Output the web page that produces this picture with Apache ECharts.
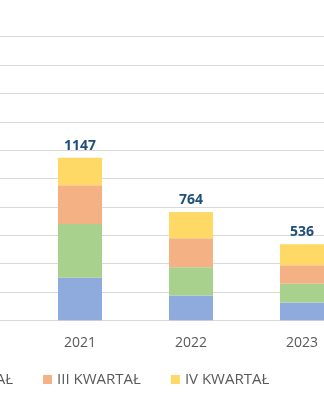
<!DOCTYPE html>
<html><head><meta charset="utf-8">
<script src="https://cdn.jsdelivr.net/npm/echarts@6/dist/echarts.min.js"></script>
<style>html,body{margin:0;padding:0;background:#fff}#c{width:324px;height:400px}</style>
</head><body><div id="c"></div>
<script>
// Visible crop of a larger chart: the first category lies off-canvas to the left.
var categories = ['', '2021', '2022', '2023'];
var q1 = [null, 300, 175, 125];
var q2 = [null, 380, 199, 133];
var q3 = [null, 272, 204, 130];
var q4 = [null, 195, 186, 148];
var totals = [null, 1147, 764, 536];
var seriesNames = ['I KWARTAŁ', 'II KWARTAŁ', 'III KWARTAŁ', 'IV KWARTAŁ'];
var colors = ['#8faadc', '#a9d18e', '#f4b183', '#ffd966'];
var FONT = 'Open Sans';

var chart = echarts.init(document.getElementById('c'), null, {renderer: 'canvas'});
var vals = [q1, q2, q3, q4];
var series = vals.map(function (d, i) {
  var s = {
    name: seriesNames[i], type: 'bar', stack: 'total', data: d,
    barWidth: 44, itemStyle: {color: colors[i]}, emphasis: {disabled: true}
  };
  if (i === 3) {
    s.label = {
      show: true, position: 'top', distance: 5,
      fontFamily: FONT, fontWeight: 'bold', fontSize: 14, color: '#1f4e79',
      formatter: function (p) { return totals[p.dataIndex]; }
    };
  }
  return s;
});
chart.setOption({
  animation: false,
  color: colors,
  grid: {left: -86.5, right: -33.5, top: 36.7, bottom: 79.7, outerBoundsMode: 'none', containLabel: false},
  legend: {
    data: seriesNames, left: -205, top: 367, icon: 'rect', itemWidth: 9, itemHeight: 9, itemGap: 30,
    textStyle: {fontFamily: FONT, fontSize: 15, color: '#595959'}
  },
  xAxis: {
    type: 'category', data: categories,
    axisLine: {lineStyle: {color: '#d9d9d9', width: 1}}, axisTick: {show: false},
    axisLabel: {fontFamily: FONT, fontSize: 14, color: '#595959', margin: 16}
  },
  yAxis: {
    type: 'value', min: 0, max: 2000, interval: 200,
    axisLabel: {show: false}, axisLine: {show: false}, axisTick: {show: false},
    splitLine: {lineStyle: {color: '#d9d9d9', width: 1}}
  },
  series: series
});
</script></body></html>
